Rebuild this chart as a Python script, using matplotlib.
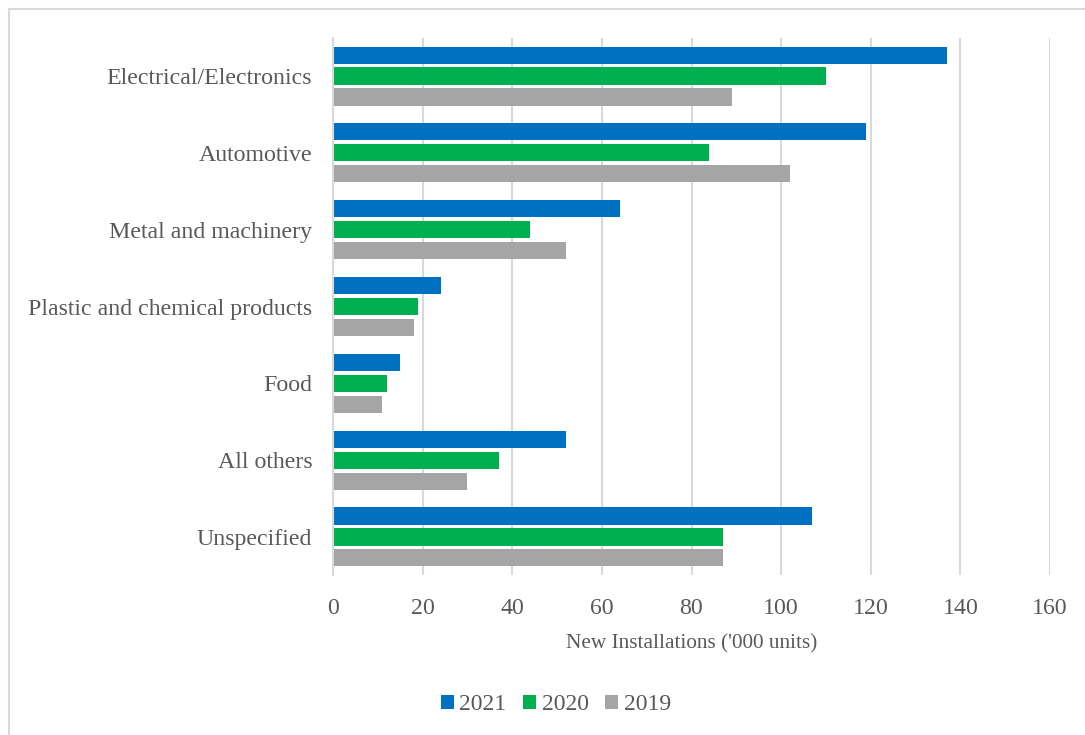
import matplotlib
matplotlib.use("Agg")
import matplotlib.pyplot as plt
import numpy as np
from matplotlib.patches import Rectangle

categories = ["Electrical/Electronics", "Automotive", "Metal and machinery",
              "Plastic and chemical products", "Food", "All others", "Unspecified"]
years = ["2021", "2020", "2019"]
values_2021 = [137, 119, 64, 24, 15, 52, 107]
values_2020 = [110, 84, 44, 19, 12, 37, 87]
values_2019 = [89, 102, 52, 18, 11, 30, 87]
x_ticks = [0, 20, 40, 60, 80, 100, 120, 140, 160]

colors = ["#0070c0", "#00b050", "#a5a5a5"]
text_color = "#595959"
grid_color = "#d9d9d9"

plt.rcParams["font.family"] = ["Liberation Serif", "DejaVu Serif"]

W, H = 1085, 735
fig = plt.figure(figsize=(W / 100, H / 100), dpi=100)

# outer chart frame
fig.patches.append(Rectangle((9 / W, -0.1), 1.2, (H - 9) / H + 0.1,
                             transform=fig.transFigure, fill=False,
                             edgecolor=grid_color, linewidth=1.5))

left, right, top, bottom = 333, 1050, 37.6, 575.4
ax = fig.add_axes([left / W, 1 - bottom / H, (right - left) / W, (bottom - top) / H])

n = len(categories)
ypos = np.arange(n)
pitch = 0.273
bar_h = 0.222
series = [values_2021, values_2020, values_2019]
for i, (vals, yr, c) in enumerate(zip(series, years, colors)):
    ax.barh(ypos + (i - 1) * pitch, vals, height=bar_h, color=c, label=yr, zorder=3)

ax.set_ylim(n - 0.5, -0.5)
ax.set_xlim(0, 160)
ax.set_xticks(x_ticks)
ax.set_xticklabels([str(t) for t in x_ticks])
ax.set_yticks(ypos)
ax.set_yticklabels(categories)

ax.grid(axis="x", color=grid_color, linewidth=1.5, zorder=0)
for s in ["top", "right", "bottom"]:
    ax.spines[s].set_visible(False)
ax.spines["left"].set_color(grid_color)
ax.spines["left"].set_linewidth(1.5)
ax.spines["left"].set_zorder(4)

ax.tick_params(axis="y", length=0, pad=15, labelsize=17.2, labelcolor=text_color)
ax.tick_params(axis="x", length=0, pad=16, labelsize=17.2, labelcolor=text_color)

ax.set_xlabel("New Installations ('000 units)", fontsize=15.3, color=text_color, labelpad=11)

handles, labels = ax.get_legend_handles_labels()
fig.legend(handles, labels, loc="center", bbox_to_anchor=(556 / W, 1 - 705 / H),
           ncol=3, frameon=False, fontsize=17, labelcolor=text_color,
           handlelength=0.55, handleheight=0.55, handletextpad=0.25, columnspacing=0.7)

fig.savefig("out.png", dpi=100, facecolor="white")
